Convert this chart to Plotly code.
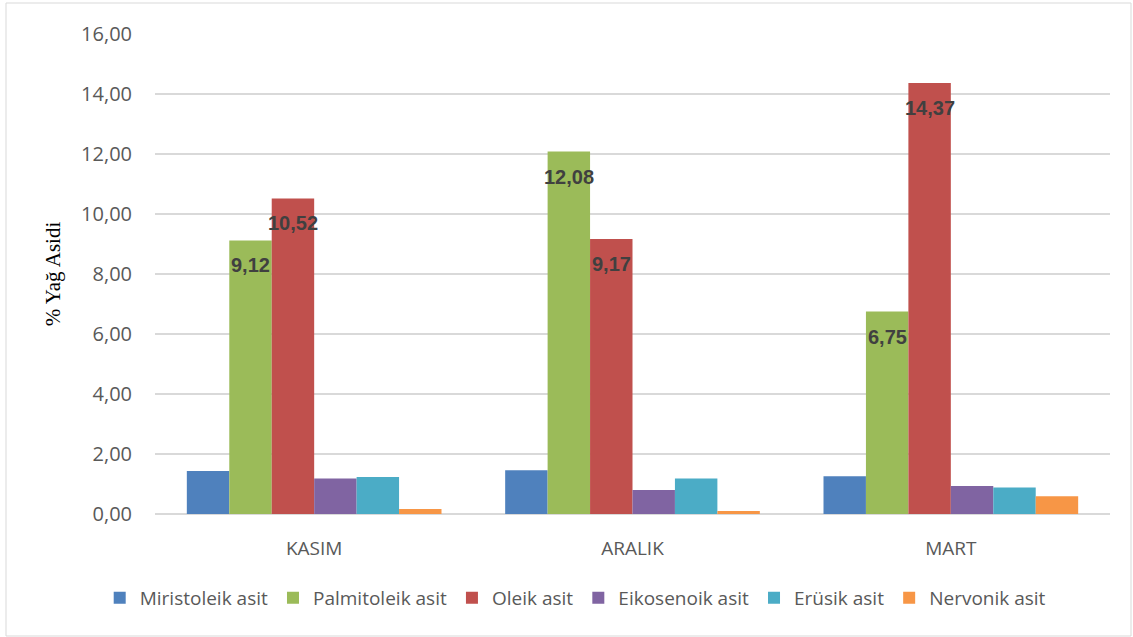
import plotly.graph_objects as go

# Months sampled and fatty-acid shares (%)
months = ["KASIM", "ARALIK", "MART"]
series_names = ["Miristoleik asit", "Palmitoleik asit", "Oleik asit",
                "Eikosenoik asit", "Erüsik asit", "Nervonik asit"]
miristoleik = [1.43, 1.46, 1.26]
palmitoleik = [9.12, 12.08, 6.75]
oleik = [10.52, 9.17, 14.37]
eikosenoik = [1.18, 0.80, 0.93]
erusik = [1.23, 1.18, 0.88]
nervonik = [0.17, 0.10, 0.59]
y_ticks = [0, 2, 4, 6, 8, 10, 12, 14, 16]

series_values = [miristoleik, palmitoleik, oleik, eikosenoik, erusik, nervonik]
colors = ["#4F81BD", "#9BBB59", "#C0504D", "#8064A2", "#4BACC6", "#F79646"]
labelled = [1, 2]  # series that carry value labels

W, H = 1133, 637
ML, MR, MT, MB = 155, 23, 34, 123
plot_w = W - ML - MR
bargap = 0.2
bar_px = plot_w / len(months) * (1 - bargap) / len(series_names)

fig = go.Figure()
for name, vals, col in zip(series_names, series_values, colors):
    fig.add_trace(go.Bar(
        x=months, y=vals, name=name,
        marker=dict(color=col, line=dict(width=0)),
        hoverinfo="x+y+name",
    ))

annotations = []
for si in labelled:
    for mi, m in enumerate(months):
        v = series_values[si][mi]
        annotations.append(dict(
            x=m, y=v, xref="x", yref="y",
            text="<b>" + f"{v:.2f}".replace(".", ",") + "</b>",
            showarrow=False,
            xshift=(si - (len(series_names) - 1) / 2) * bar_px,
            yshift=-25,
            font=dict(family="Liberation Sans", size=20, color="#404040"),
            yanchor="middle", xanchor="center",
        ))

# Light outer frame around the whole chart
x0 = (6 - ML) / plot_w
x1 = (1131 - ML) / plot_w
plot_h = H - MT - MB
y0 = (H - MB - 636) / plot_h
y1 = (H - MB - 3) / plot_h

fig.update_layout(
    width=W, height=H,
    margin=dict(l=ML, r=MR, t=MT, b=MB, autoexpand=False),
    paper_bgcolor="white", plot_bgcolor="white",
    barmode="group", bargap=bargap, bargroupgap=0,
    separators=",.",
    font=dict(family="Open Sans", color="#595959", size=18),
    xaxis=dict(
        showgrid=False, showline=False, ticks="",
        ticklabelstandoff=21,
        tickfont=dict(family="Open Sans", size=19, color="#595959"),
    ),
    yaxis=dict(
        range=[0, 16], tickvals=y_ticks, tickformat=".2f",
        showgrid=True, gridcolor="#D9D9D9", gridwidth=1.5,
        zeroline=True, zerolinecolor="#D9D9D9", zerolinewidth=1.5,
        showline=False, ticks="", ticklen=0,
        ticklabelstandoff=22,
        tickfont=dict(family="Open Sans", size=20, color="#595959"),
        title=dict(text="% Yağ Asidi",
                   font=dict(family="Liberation Serif", size=21, color="#000000"),
                   standoff=14),
    ),
    legend=dict(
        orientation="h", x=0.44, xanchor="center", y=-0.135, yanchor="top",
        font=dict(family="Open Sans", size=19, color="#595959"),
        itemwidth=30, tracegroupgap=0,
    ),
    annotations=annotations,
    shapes=[dict(type="rect", xref="paper", yref="paper",
                 x0=x0, x1=x1, y0=y0, y1=y1,
                 line=dict(color="#D9D9D9", width=1), layer="below")],
)

fig.write_html("out.html")
